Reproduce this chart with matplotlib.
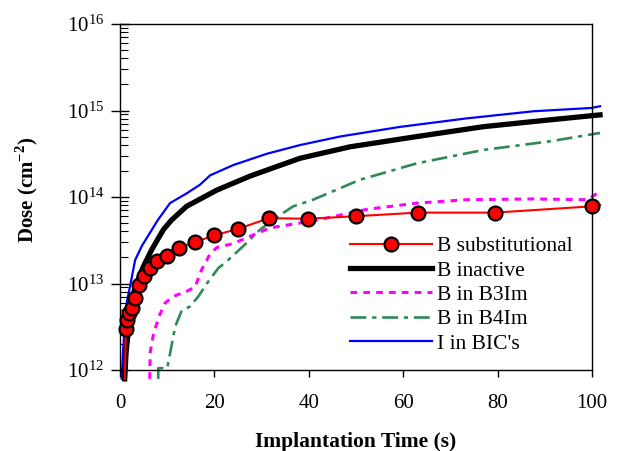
import matplotlib
matplotlib.use("Agg")
import matplotlib.pyplot as plt
from matplotlib.ticker import LogLocator, LogFormatterMathtext, NullFormatter
import numpy as np

plt.rcParams['font.family'] = ['Liberation Serif', 'DejaVu Serif']
plt.rcParams['mathtext.fontset'] = 'custom'
plt.rcParams['mathtext.rm'] = 'Liberation Serif'
plt.rcParams['mathtext.bf'] = 'Liberation Serif:bold'

# B substitutional (markers + line)
t_sub = [1.26, 1.58, 2.0, 2.51, 3.16, 3.98, 5.01, 6.31, 7.94, 10.0,
         12.6, 15.8, 20.0, 25.1, 31.6, 39.8, 50.1, 63.1, 79.4, 100.0]
dose_sub = [3.0e12, 3.8e12, 4.5e12, 5.2e12, 6.8e12, 9.6e12, 1.23e13, 1.5e13, 1.8e13, 2.1e13,
            2.6e13, 3.0e13, 3.6e13, 4.3e13, 5.7e13, 5.6e13, 6.0e13, 6.6e13, 6.6e13, 7.8e13]
t_sub_line = [1.0] + t_sub + [101.7]
dose_sub_line = [7.9e11] + dose_sub + [8.1e13]

# B inactive
t_inact = [1.0, 1.27, 1.77, 2.1, 3.2, 4.9, 6.7, 9.2, 10.9, 14.1, 20.5, 27.5,
           38.1, 48.7, 62.9, 77.0, 91.1, 101.7]
dose_inact = [7.9e11, 1.55e12, 2.9e12, 4.9e12, 9.1e12, 1.55e13, 2.45e13, 4.2e13, 5.4e13,
              7.8e13, 1.2e14, 1.74e14, 2.8e14, 3.8e14, 5.0e14, 6.5e14, 7.8e14, 8.9e14]

# B in B3Im
t_b3 = [6.3, 6.4, 7.1, 8.3, 9.5, 11.3, 14.1, 15.9, 17.3, 19.1, 20.5, 24.0, 27.5,
        31.8, 38.1, 41.7, 52.3, 62.9, 73.4, 87.6, 98.9, 101.7]
dose_b3 = [7.9e11, 1.6e12, 2.6e12, 4.2e12, 5.9e12, 7.1e12, 8.1e12, 9.1e12, 1.45e13,
           2.2e13, 2.6e13, 2.9e13, 3.5e13, 4.4e13, 5.0e13, 5.4e13, 7.2e13, 8.5e13,
           9.3e13, 9.5e13, 9.3e13, 1.15e14]

# B in B4Im
t_b4 = [8.1, 8.1, 10.0, 10.6, 11.7, 13.1, 14.8, 16.6, 18.4, 20.8, 22.6, 26.1, 29.7,
        33.9, 36.7, 40.9, 50.8, 62.9, 77.0, 91.1, 101.7]
dose_b4 = [7.9e11, 1.05e12, 1.05e12, 1.55e12, 3.2e12, 4.9e12, 5.4e12, 7.1e12, 1.0e13,
           1.5e13, 1.8e13, 2.7e13, 4.2e13, 6.2e13, 7.8e13, 9.3e13, 1.58e14, 2.45e14,
           3.5e14, 4.4e14, 5.5e14]

# I in BIC's
t_bic = [0.35, 0.7, 1.4, 2.1, 3.2, 4.6, 8.0, 10.6, 14.1, 16.9, 19.1, 24.0, 31.1,
         38.1, 46.6, 59.3, 73.4, 87.6, 99.9, 101.7]
dose_bic = [7.9e11, 1.86e12, 5.9e12, 9.1e12, 1.86e13, 2.7e13, 5.4e13, 8.5e13, 1.1e14,
            1.38e14, 1.78e14, 2.34e14, 3.16e14, 3.98e14, 5.0e14, 6.46e14, 8.1e14,
            9.8e14, 1.07e15, 1.12e15]

fig = plt.figure(figsize=(6.18, 4.51), dpi=100)
ax = fig.add_axes([120/618, 1-370/451, 472/618, 346/451])

l_bic, = ax.plot(t_bic, dose_bic, color='#0000ff', lw=1.6, clip_on=False, zorder=2)
l_b4, = ax.plot(t_b4, dose_b4, color='#2e8b57', lw=1.9, ls=(0, (6, 2.2, 1.6, 2.2)),
                clip_on=False, zorder=2)
l_b3, = ax.plot(t_b3, dose_b3, color='#ff00ff', lw=2.2, ls=(0, (2.2, 2.0)),
                clip_on=False, zorder=2)
l_inact, = ax.plot(t_inact, dose_inact, color='black', lw=3.8, clip_on=False, zorder=3)
ax.plot(t_sub_line, dose_sub_line, color='red', lw=1.5, clip_on=False, zorder=4)
ax.plot(t_sub, dose_sub, ls='none', marker='o', ms=10, mfc='red', mec='black',
        mew=1.6, clip_on=False, zorder=5)
h_sub, = ax.plot([], [], color='red', lw=1.5, marker='o', ms=10, mfc='red',
                 mec='black', mew=1.6)

ax.set_yscale('log')
ax.set_xlim(0, 100)
ax.set_ylim(1e12, 1e16)
ax.set_xticks([0, 20, 40, 60, 80, 100])
ax.yaxis.set_major_locator(LogLocator(base=10, numticks=10))
ax.yaxis.set_major_formatter(LogFormatterMathtext())
ax.yaxis.set_minor_locator(LogLocator(base=10, subs=np.arange(2, 10), numticks=20))
ax.yaxis.set_minor_formatter(NullFormatter())

ax.tick_params(axis='y', which='major', direction='inout', length=13, width=1,
               labelsize=15, pad=5)
ax.tick_params(axis='y', which='minor', direction='in', length=5.5, width=0.8)
ax.tick_params(axis='x', which='major', direction='out', length=5, width=1,
               labelsize=15, pad=12)
for s in ax.spines.values():
    s.set_linewidth(1.0)

ax.set_xlabel('Implantation Time (s)', fontsize=15.5, fontweight='bold', labelpad=14)
ax.set_ylabel(r'Dose (cm$^{\mathbf{-2}}$)', fontsize=15, fontweight='bold')
ax.yaxis.set_label_coords(-0.17, 0.52)

fig.legend([h_sub, l_inact, l_b3, l_b4, l_bic],
           ['B substitutional', 'B inactive', 'B in B3Im', 'B in B4Im', "I in BIC's"],
           loc='center left', bbox_to_anchor=(350/618, 1-295/451), frameon=False,
           fontsize=15.5, handlelength=3.8, handletextpad=0.23, labelspacing=0.2,
           borderpad=0, borderaxespad=0)

fig.savefig('out.png', dpi=100)
